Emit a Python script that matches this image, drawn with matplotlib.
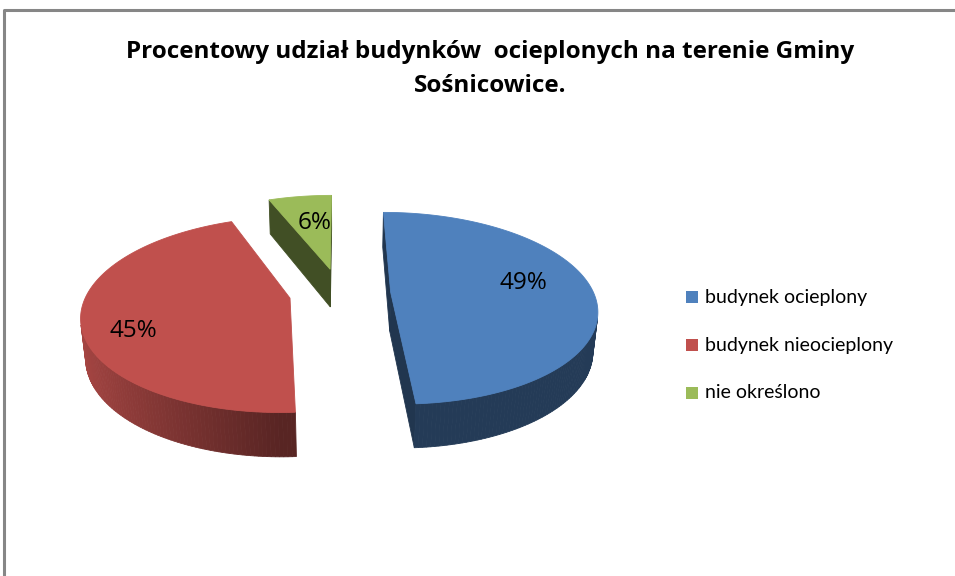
import numpy as np
import matplotlib
matplotlib.use("Agg")
import matplotlib.pyplot as plt
from matplotlib.patches import Polygon, Rectangle

TITLE = "Procentowy udział budynków  ocieplonych na terenie Gminy\nSośnicowice."
LABELS = ["budynek ocieplony", "budynek nieocieplony", "nie określono"]
VALUES = [49, 45, 6]
COLORS = ["#4F81BD", "#C0504D", "#9BBB59"]
EXPLODE = [0.25, 0.25, 0.27]

# view parameters (pixel space, y down)
W, H_PX = 955, 576
CAM_X, CAM_Y = 340, 293
K = 1082.0
DIST = 5.33
ELEV = np.radians(27.4)
DEPTH = 0.22

# where the % labels sit on each top face (radius, angle shift in degrees)
LBL_R = [0.68, 0.78, 0.60]
LBL_SHIFT = [-7, -12, 2]

CAM = np.array([0.0, DIST * np.sin(ELEV), DIST * np.cos(ELEV)])
FWD = -CAM / DIST
UP = np.array([0.0, np.cos(ELEV), -np.sin(ELEV)])


def proj(p):
    v = np.asarray(p) - CAM
    d = v @ FWD
    return CAM_X + K * v[0] / d, CAM_Y - K * (v @ UP) / d


def pt(c, th, r=1.0, y=0.0):
    return np.array([c[0] + r * np.sin(th), y, c[2] - r * np.cos(th)])


def shade(color, f):
    rgb = np.array(matplotlib.colors.to_rgb(color))
    return tuple(np.clip(rgb * f, 0, 1))


def visible(n, p):
    return n @ (CAM - p) > 0


def add_poly(ax, pts3d, color):
    xy = [proj(p) for p in pts3d]
    ax.add_patch(Polygon(xy, closed=True, facecolor=color, edgecolor=color,
                         linewidth=0.6, antialiased=True))


fig = plt.figure(figsize=(W / 100, H_PX / 100), dpi=100)
ax = fig.add_axes([0, 0, 1, 1])
ax.set_xlim(0, W)
ax.set_ylim(H_PX, 0)
ax.axis("off")

# frame
ax.plot([4, 4, W], [H_PX, 10, 10], color="#868686", linewidth=2.2,
        solid_capstyle="butt")

total = sum(VALUES)
start = 0.0
label_pos = []
for val, col, ex in zip(VALUES, COLORS, EXPLODE):
    sweep = 2 * np.pi * val / total
    t1, t2 = start, start + sweep
    mid = (t1 + t2) / 2
    c = np.array([ex * np.sin(mid), 0.0, -ex * np.cos(mid)])

    # radial cut faces
    for th, sgn in ((t1, -1), (t2, 1)):
        n = sgn * np.array([np.cos(th), 0.0, np.sin(th)])
        if visible(n, c + np.array([0, -DEPTH / 2, 0])):
            quad = [c, pt(c, th), pt(c, th, y=-DEPTH), c + np.array([0, -DEPTH, 0])]
            add_poly(ax, quad, shade(col, 0.42))

    # outer wall, shaded by facing direction
    ths = np.linspace(t1, t2, max(int(np.degrees(sweep)), 2) + 1)
    for a, b in zip(ths[:-1], ths[1:]):
        m = (a + b) / 2
        n = np.array([np.sin(m), 0.0, -np.cos(m)])
        if visible(n, pt(c, m, y=-DEPTH / 2)):
            f = 0.46 + 0.42 * max(0.0, -np.sin(m))
            add_poly(ax, [pt(c, a), pt(c, b), pt(c, b, y=-DEPTH), pt(c, a, y=-DEPTH)],
                     shade(col, f))

    # top face
    top = [c] + [pt(c, th) for th in np.linspace(t1, t2, 200)]
    add_poly(ax, top, col)

    label_pos.append((c, mid))
    start = t2

# percentage labels
for (c, mid), val, r, sh in zip(label_pos, VALUES, LBL_R, LBL_SHIFT):
    x, y = proj(pt(c, mid + np.radians(sh), r=r))
    ax.text(x, y, f"{val}%", ha="center", va="center", fontsize=17.5,
            family="Open Sans", color="black")

# title
ax.text(490, 69, TITLE, ha="center", va="center", fontsize=17.5,
        family="Open Sans", fontweight="bold", linespacing=1.55, color="black")

# legend
for i, (lab, col) in enumerate(zip(LABELS, COLORS)):
    y = 297 + 48 * i
    ax.add_patch(Rectangle((686, y - 6), 12, 12, facecolor=col, edgecolor="none"))
    ax.text(705, y, lab, ha="left", va="center", fontsize=14, family="Lato",
            color="black")

fig.savefig("out.png", dpi=100)
